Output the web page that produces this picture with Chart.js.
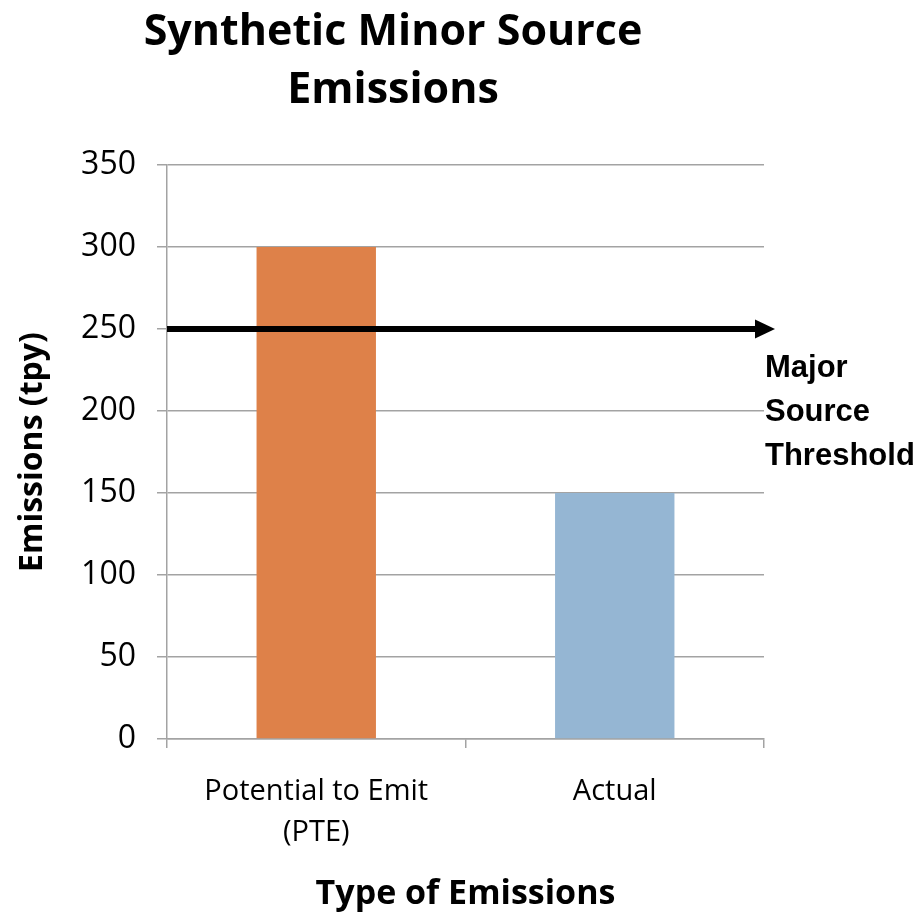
<!DOCTYPE html>
<html>
<head>
<meta charset="utf-8">
<title>Synthetic Minor Source Emissions</title>
<script src="https://cdn.jsdelivr.net/npm/chart.js"></script>
<style>
  html, body {
    margin: 0;
    padding: 0;
    background: #fff;
  }

  .wrap {
    position: relative;
    width: 923px;
    height: 915px;
  }

  .chart-title {
    position: absolute;
    left: 0;
    top: 0;
    width: 786px;
    text-align: center;
    font-family: 'Open Sans', sans-serif;
    font-weight: 700;
    font-size: 43px;
    line-height: 58px;
    color: #000;
  }

  canvas {
    position: absolute;
    left: 0;
    top: 0;
  }
</style>
</head>
<body>
<div class="wrap">
  <canvas id="emissionsChart" width="923" height="915"></canvas>
  <div class="chart-title">Synthetic Minor Source<br>Emissions</div>
</div>

<script>
// chart data
const categories = [['Potential to Emit', '(PTE)'], 'Actual'];
const emissions = [300, 150];
const barColors = ['#DE8149', '#95B6D3'];
const yMin = 0;
const yMax = 350;
const yStep = 50;
const threshold = 250;
const thresholdLabel = ['Major', 'Source', 'Threshold'];

const FONT = "'Open Sans', sans-serif";
const GRID = '#A3A3A3';

// Black arrow at the threshold value, with its label under the tip
const thresholdArrow = {
  id: 'thresholdArrow',
  afterDatasetsDraw(chart) {
    const { ctx, chartArea, scales } = chart;
    const y = scales.y.getPixelForValue(threshold);
    const tip = chartArea.right + 11;
    const headLen = 20;

    ctx.save();
    ctx.strokeStyle = '#000';
    ctx.fillStyle = '#000';
    ctx.lineWidth = 6;
    ctx.beginPath();
    ctx.moveTo(chartArea.left, y);
    ctx.lineTo(tip - headLen + 2, y);
    ctx.stroke();

    ctx.beginPath();
    ctx.moveTo(tip, y);
    ctx.lineTo(tip - headLen, y - 9.5);
    ctx.lineTo(tip - headLen, y + 9.5);
    ctx.closePath();
    ctx.fill();

    ctx.font = "bold 31px 'Liberation Sans', sans-serif";
    ctx.textAlign = 'left';
    ctx.textBaseline = 'middle';
    thresholdLabel.forEach((line, i) => {
      ctx.fillText(line, chartArea.right + 1, y + 39 + i * 44);
    });
    ctx.restore();
  }
};

new Chart(document.getElementById('emissionsChart'), {
  type: 'bar',
  data: {
    labels: categories,
    datasets: [{
      data: emissions,
      backgroundColor: barColors,
      borderWidth: 0,
      categoryPercentage: 1,
      barPercentage: 0.4
    }]
  },
  options: {
    responsive: false,
    animation: false,
    devicePixelRatio: 1,
    layout: {
      padding: { top: 165, right: 159, bottom: 0, left: 0 }
    },
    plugins: {
      legend: { display: false },
      title: { display: false },
      tooltip: { enabled: false }
    },
    scales: {
      y: {
        min: yMin,
        max: yMax,
        afterFit: s => { s.width = 167; },
        ticks: {
          stepSize: yStep,
          padding: 21,
          color: '#000',
          font: { family: FONT, size: 32 }
        },
        grid: {
          color: GRID,
          lineWidth: 1.5,
          tickLength: 10
        },
        border: { color: GRID, width: 1.5 },
        title: {
          display: true,
          text: 'Emissions (tpy)',
          color: '#000',
          font: { family: FONT, size: 32, weight: 'bold' },
          padding: { top: 14, bottom: 0 }
        }
      },
      x: {
        afterFit: s => { s.height = 176; },
        ticks: {
          padding: 23,
          color: '#000',
          font: { family: FONT, size: 29, lineHeight: 1.41 }
        },
        grid: {
          drawOnChartArea: false,
          color: GRID,
          lineWidth: 1.5,
          tickLength: 9
        },
        border: { color: GRID, width: 1.5 },
        title: {
          display: true,
          text: 'Type of Emissions',
          color: '#000',
          font: { family: FONT, size: 34, weight: 'bold' },
          padding: { top: 0, bottom: 0 }
        }
      }
    }
  },
  plugins: [thresholdArrow]
});
</script>
</body>
</html>
